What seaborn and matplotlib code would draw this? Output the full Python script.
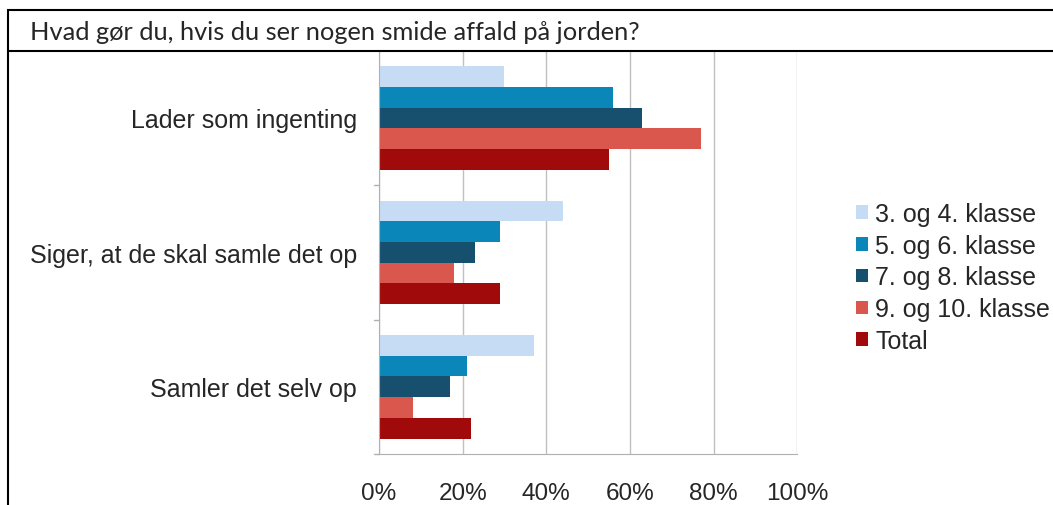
import seaborn as sns
import matplotlib.pyplot as plt
import pandas as pd
from matplotlib.patches import Rectangle
from matplotlib.lines import Line2D

answers = ['Lader som ingenting', 'Siger, at de skal samle det op', 'Samler det selv op']
groups = ['3. og 4. klasse', '5. og 6. klasse', '7. og 8. klasse', '9. og 10. klasse', 'Total']
klasse_3_4 = [30, 44, 37]
klasse_5_6 = [56, 29, 21]
klasse_7_8 = [63, 23, 17]
klasse_9_10 = [77, 18, 8]
total = [55, 29, 22]
colors = ['#c6dcf5', '#0a87b8', '#17506f', '#d9574c', '#a00a0a']

rows = []
for g, vals in zip(groups, [klasse_3_4, klasse_5_6, klasse_7_8, klasse_9_10, total]):
    for a, v in zip(answers, vals):
        rows.append({'answer': a, 'group': g, 'pct': v})
df = pd.DataFrame(rows)

sns.set_style('white')
plt.rcParams['font.family'] = ['Liberation Sans', 'DejaVu Sans']

fig = plt.figure(figsize=(10.53, 5.06), dpi=100)
ax = fig.add_axes([0.36, 0.1008, 0.397, 0.797])
sns.barplot(data=df, y='answer', x='pct', hue='group', order=answers, hue_order=groups,
            palette=colors, orient='h', width=0.77, saturation=1, linewidth=0,
            edgecolor='none', ax=ax)

ax.set_xlim(0, 100)
ax.set_ylim(2.5, -0.5)
ax.set_xticks([0, 20, 40, 60, 80, 100])
ax.set_xticklabels([f'{t}%' for t in [0, 20, 40, 60, 80, 100]], fontsize=17.5)
ax.set_yticks([0, 1, 2])
ax.set_yticklabels(answers, fontsize=18)
ax.tick_params(axis='y', length=0, pad=16)
ax.tick_params(axis='x', length=5, color='#b0b0b0', direction='out', pad=15)
ax.set_xlabel('')
ax.set_ylabel('')
ax.grid(axis='x', color='#c0c0c0', linewidth=1)
ax.set_axisbelow(True)
for s in ['top', 'right']:
    ax.spines[s].set_visible(False)
for s in ['left', 'bottom']:
    ax.spines[s].set_color('#b0b0b0')
# category separators on the value axis
for yb in [0.5, 1.5, 2.5]:
    ax.add_line(Line2D([-0.012, 0], [yb, yb], transform=ax.get_yaxis_transform(),
                       color='#b0b0b0', linewidth=1, clip_on=False))

leg = ax.legend(loc='upper left', bbox_to_anchor=(1.142, 0.625), frameon=False,
                fontsize=18, handlelength=0.45, handleheight=0.45, handletextpad=0.3,
                labelspacing=0.31, borderaxespad=0, borderpad=0)

# title box and frame
fig.patches.append(Rectangle((8 / 1053, 454 / 506), 1.0, 41 / 506, transform=fig.transFigure,
                             fill=False, edgecolor='black', linewidth=1.5))
fig.add_artist(Line2D([8 / 1053, 8 / 1053], [0, 454 / 506], transform=fig.transFigure,
                      color='black', linewidth=1.5))
fig.text(30 / 1053, 474 / 506, 'Hvad gør du, hvis du ser nogen smide affald på jorden?',
         fontsize=18.3, family=['Lato', 'DejaVu Sans'], va='center', ha='left')

fig.savefig('out.png', dpi=100)
